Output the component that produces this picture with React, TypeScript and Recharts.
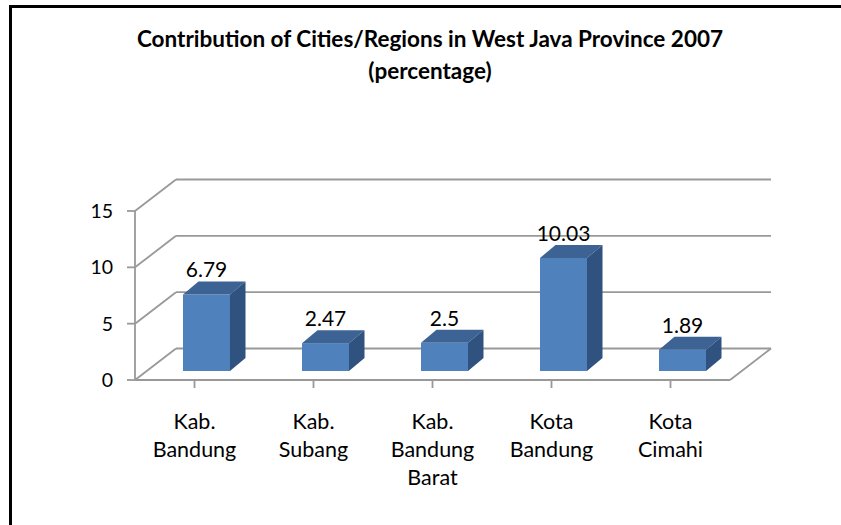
import { Bar, BarChart, CartesianGrid, LabelList, XAxis, YAxis } from "recharts"

const categories = ["Kab. Bandung", "Kab. Subang", "Kab. Bandung Barat", "Kota Bandung", "Kota Cimahi"]
const contribution = [6.79, 2.47, 2.5, 10.03, 1.89]
const yTicks = [0, 5, 10, 15]

const data = categories.map((name, i) => ({ name, value: contribution[i] }))

// perspective of the 3D box
const WALL_DX = 41
const WALL_DY = 31.5
// bar position inside the depth, and its own depth
const BAR_OX = 12
const BAR_OY = -9
const BAR_DX = 15.5
const BAR_DY = 13

const GRID = "#999999"
const FONT = "Lato, 'Open Sans', sans-serif"

function Bar3D(props: any) {
  const { x, y, width, height } = props
  if (width == null || height == null) return null
  const fx = x + BAR_OX
  const fy = y + BAR_OY
  const w = width
  const h = height
  const top = `${fx},${fy} ${fx + BAR_DX},${fy - BAR_DY} ${fx + w + BAR_DX},${fy - BAR_DY} ${fx + w},${fy}`
  const side = `${fx + w},${fy} ${fx + w + BAR_DX},${fy - BAR_DY} ${fx + w + BAR_DX},${fy + h - BAR_DY} ${fx + w},${fy + h}`
  return (
    <g>
      <rect x={fx} y={fy} width={w} height={h} fill="#4f81bd" />
      <polygon points={top} fill="#3c6394" />
      <polygon points={side} fill="#30527f" />
    </g>
  )
}

function GridLine(props: any) {
  const { x1, y1, x2, y, height } = props
  const isFloor = Math.abs(y1 - (y + height)) < 1
  return (
    <g key={props.key} stroke={GRID} strokeWidth={1.8} fill="none">
      <line x1={x1} y1={y1} x2={x1 + WALL_DX} y2={y1 - WALL_DY} />
      <line x1={x1 + WALL_DX} y1={y1 - WALL_DY} x2={x2 + WALL_DX} y2={y1 - WALL_DY} />
      {isFloor && <line x1={x2} y1={y1} x2={x2 + WALL_DX} y2={y1 - WALL_DY} />}
    </g>
  )
}

function CategoryTick(props: any) {
  const { x, y, payload } = props
  const lines = String(payload.value).split(" ")
  return (
    <text textAnchor="middle" fontFamily={FONT} fontSize={21.5} fill="#000">
      {lines.map((line, i) => (
        <tspan key={i} x={x} y={y + 39 + i * 28}>
          {line}
        </tspan>
      ))}
    </text>
  )
}

function ValueLabel(props: any) {
  const { x, y, width, value } = props
  return (
    <text
      x={x + BAR_OX + width / 2}
      y={y + BAR_OY - BAR_DY - 4}
      textAnchor="middle"
      fontFamily={FONT}
      fontSize={21}
      fill="#000"
    >
      {value}
    </text>
  )
}

export default function App() {
  return (
    <div style={{ position: "absolute", left: 0, top: 0, width: 841, height: 525, background: "#fff" }}>
      <div
        style={{
          position: "absolute",
          left: 9,
          top: 5,
          width: 832,
          height: 520,
          borderTop: "3px solid #000",
          borderLeft: "3px solid #000",
          boxSizing: "border-box",
        }}
      />
      <div
        style={{
          position: "absolute",
          left: 0,
          top: 23,
          width: 860,
          textAlign: "center",
          fontFamily: FONT,
          fontWeight: "bold",
          fontSize: 22.5,
          lineHeight: "32px",
          color: "#000",
        }}
      >
        Contribution of Cities/Regions in West Java Province 2007
        <br />
        (percentage)
      </div>
      <div style={{ position: "absolute", left: 0, top: 0 }}>
        <BarChart
          width={841}
          height={525}
          data={data}
          margin={{ top: 211, right: 111, bottom: 45, left: 75 }}
          barSize={47}
        >
          <CartesianGrid vertical={false} horizontal={GridLine} />
          <XAxis
            dataKey="name"
            height={100}
            interval={0}
            axisLine={{ stroke: GRID, strokeWidth: 1.8 }}
            tickLine={{ stroke: GRID, strokeWidth: 1.8 }}
            tickSize={8}
            tick={<CategoryTick />}
          />
          <YAxis
            width={60}
            domain={[0, 15]}
            ticks={yTicks}
            interval={0}
            axisLine={{ stroke: GRID, strokeWidth: 1.8 }}
            tickLine={{ stroke: GRID, strokeWidth: 1.8 }}
            tickSize={8}
            tickMargin={14}
            tick={{ fontFamily: FONT, fontSize: 19.5, fill: "#000" }}
          />
          <Bar dataKey="value" shape={<Bar3D />} isAnimationActive={false}>
            <LabelList dataKey="value" content={<ValueLabel />} />
          </Bar>
        </BarChart>
      </div>
    </div>
  )
}
